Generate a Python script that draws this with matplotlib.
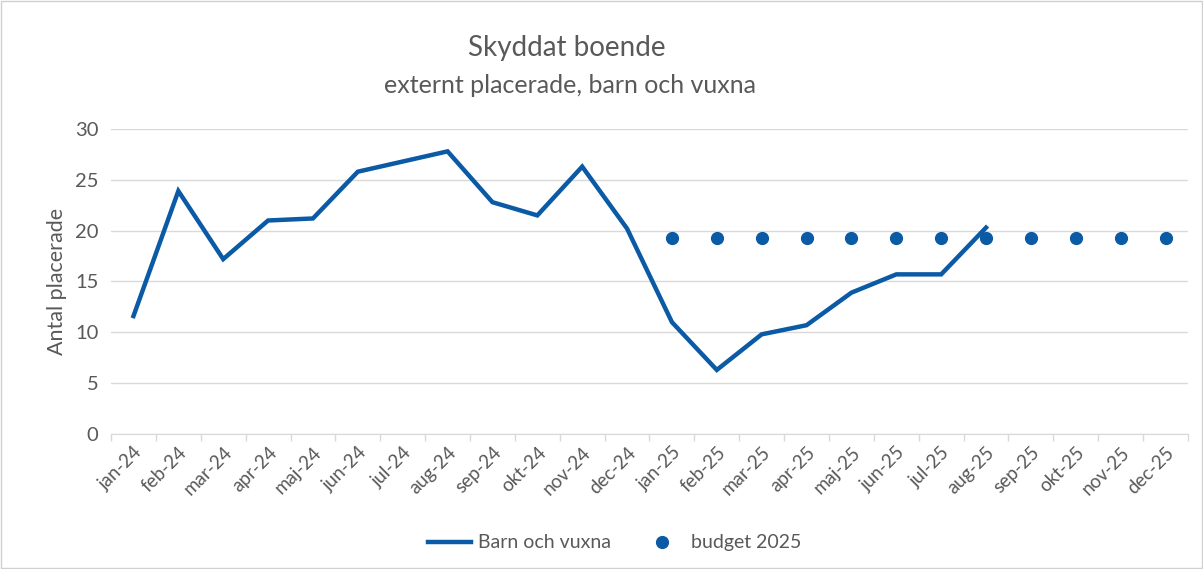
import numpy as np
import matplotlib.pyplot as plt
from matplotlib.patches import Rectangle

plt.rcParams['font.family'] = ['Lato', 'DejaVu Sans']

months = ['jan-24', 'feb-24', 'mar-24', 'apr-24', 'maj-24', 'jun-24', 'jul-24', 'aug-24',
          'sep-24', 'okt-24', 'nov-24', 'dec-24', 'jan-25', 'feb-25', 'mar-25', 'apr-25',
          'maj-25', 'jun-25', 'jul-25', 'aug-25', 'sep-25', 'okt-25', 'nov-25', 'dec-25']
barn_vuxna = [11.6, 23.9, 17.2, 21.0, 21.2, 25.8, 26.8, 27.8, 22.8, 21.5, 26.3, 20.2,
              11.0, 6.3, 9.8, 10.7, 13.9, 15.7, 15.7, 20.3]
budget_months = months[12:]
budget_2025 = [19.3] * 12

blue = '#0b5aa5'
grey = '#595959'

fig = plt.figure(figsize=(12.03, 5.69), dpi=100)
fig.patches.append(Rectangle((0.001, 0.001), 0.998, 0.998, transform=fig.transFigure,
                             fill=False, edgecolor='#d0d0d0', linewidth=1))
ax = fig.add_axes([0.0923, 0.2373, 0.8952, 0.536])

x = np.arange(len(months))
ax.plot(x[:len(barn_vuxna)], barn_vuxna, color=blue, linewidth=3.2,
        solid_joinstyle='miter', label='Barn och vuxna')
ax.plot(x[12:], budget_2025, linestyle='none', marker='o', markersize=8.5,
        color=blue, label='budget 2025')

ax.set_xlim(-0.5, len(months) - 0.5)
ax.set_ylim(0, 30)
ax.set_yticks(range(0, 31, 5))
ax.set_xticks(x)
ax.set_xticklabels(months, rotation=45, ha='right', rotation_mode='anchor')
ax.set_xticks(np.arange(-0.5, len(months)), minor=True)
ax.tick_params(axis='x', which='major', length=0, labelsize=13.5, labelcolor=grey, pad=7)
ax.tick_params(axis='x', which='minor', length=5, color='#d9d9d9', width=1)
ax.tick_params(axis='y', length=0, labelsize=14.5, labelcolor=grey, pad=9)
ax.grid(axis='y', color='#d9d9d9', linewidth=1)
ax.set_axisbelow(True)
for s in ['top', 'right', 'left']:
    ax.spines[s].set_visible(False)
ax.spines['bottom'].set_color('#d9d9d9')
ax.set_ylabel('Antal placerade', fontsize=15.5, color=grey, labelpad=6)

fig.text(0.471, 0.916, 'Skyddat boende', ha='center', va='center', fontsize=20, color=grey)
fig.text(0.474, 0.85, 'externt placerade, barn och vuxna', ha='center', va='center',
         fontsize=18, color=grey)

fig.legend(loc='center', bbox_to_anchor=(0.511, 0.046), ncol=2, frameon=False,
           fontsize=14, labelcolor=grey, handlelength=2.2, handletextpad=0.4,
           columnspacing=1.5)

plt.savefig('out.png', dpi=100)
